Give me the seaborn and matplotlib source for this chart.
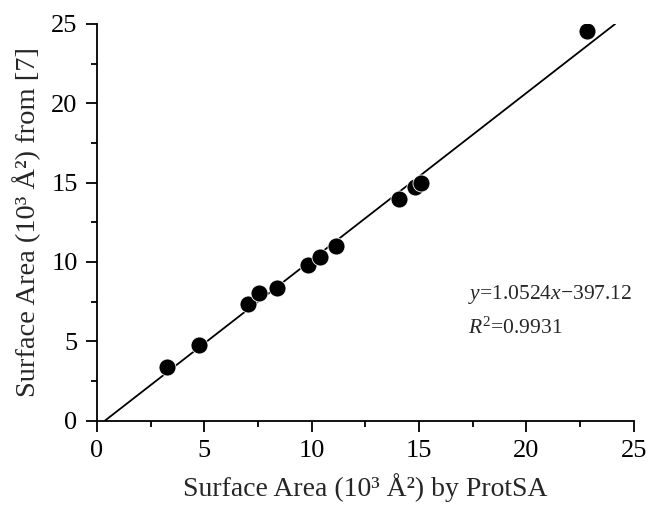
import matplotlib
matplotlib.use("Agg")
import matplotlib.pyplot as plt
import seaborn as sns
import numpy as np
import pandas as pd

# Data (10^3 Å^2)
protsa = [3.24, 4.76, 7.04, 7.54, 8.39, 9.85, 10.37, 11.11, 14.07, 14.80, 15.11, 22.84]
ref7 = [3.39, 4.76, 7.35, 8.02, 8.33, 9.82, 10.33, 11.00, 13.97, 14.70, 14.99, 24.56]
slope = 1.0524
intercept = -0.39712  # -397.12 Å^2 in 10^3 units
xticks = [0, 5, 10, 15, 20, 25]
yticks = [0, 5, 10, 15, 20, 25]

sns.set_style("ticks")
plt.rcParams['font.family'] = ['Liberation Serif', 'DejaVu Serif']
plt.rcParams['mathtext.fontset'] = 'custom'
plt.rcParams['mathtext.rm'] = 'Liberation Serif'
plt.rcParams['mathtext.it'] = 'Liberation Serif:italic'

fig = plt.figure(figsize=(6.48, 5.05), dpi=100)
ax = fig.add_axes([0.1497, 0.1673, 0.8283, 0.7852])

df = pd.DataFrame({"x": protsa, "y": ref7})
line_x = np.array([-intercept / slope, (25 - intercept) / slope])
line_df = pd.DataFrame({"x": line_x, "y": slope * line_x + intercept})
sns.lineplot(data=line_df, x="x", y="y", color="black", linewidth=1.3, ax=ax)
sns.scatterplot(data=df, x="x", y="y", color="black", s=150, edgecolor="white",
                linewidth=0.6, ax=ax, zorder=3)

ax.set_xlim(0, 25)
ax.set_ylim(0, 25)
ax.set_xticks(xticks)
ax.set_yticks(yticks)
ax.set_xticks(np.arange(2.5, 25, 5), minor=True)
ax.set_yticks(np.arange(2.5, 25, 5), minor=True)
ax.tick_params(axis="both", which="major", direction="out", length=8, width=1.3,
               labelsize=19, colors="black", pad=6)
ax.tick_params(axis="both", which="minor", direction="out", length=4, width=1.3,
               colors="black")
for s in ["left", "bottom"]:
    ax.spines[s].set_linewidth(1.3)
    ax.spines[s].set_color("black")
sns.despine(ax=ax)

ax.set_xlabel("Surface Area (10³ Å²) by ProtSA", fontsize=20, labelpad=8)
ax.set_ylabel("Surface Area (10³ Å²) from [7]", fontsize=20.5, labelpad=7)

ax.text(0.691, 0.317, r"$y$=1.0524$x$−397.12", transform=ax.transAxes,
        fontsize=15.5, va="center", ha="left")
ax.text(0.691, 0.232, r"$R^2$=0.9931", transform=ax.transAxes,
        fontsize=15.5, va="center", ha="left")

fig.savefig("out.png", dpi=100)
